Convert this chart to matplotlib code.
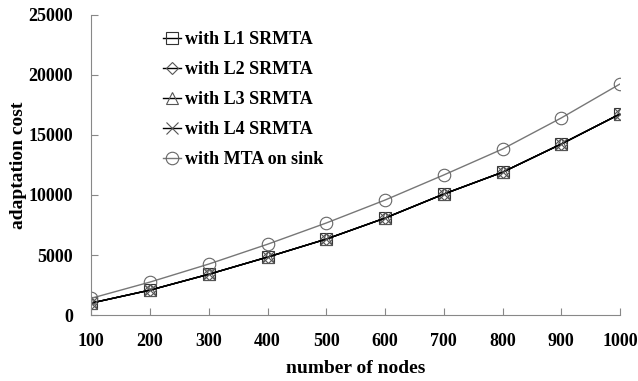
import numpy as np
import matplotlib.pyplot as plt

plt.rcParams['font.family'] = 'Liberation Serif'
plt.rcParams['font.weight'] = 'bold'

nodes = [100, 200, 300, 400, 500, 600, 700, 800, 900, 1000]
l1 = [1000, 2080, 3400, 4830, 6330, 8080, 10080, 11900, 14250, 16750]
l2 = [1000, 2080, 3400, 4830, 6330, 8080, 10080, 11900, 14250, 16750]
l3 = [1000, 2080, 3400, 4830, 6330, 8080, 10080, 11900, 14250, 16750]
l4 = [1000, 2080, 3400, 4830, 6330, 8080, 10080, 11900, 14250, 16750]
mta = [1400, 2750, 4250, 5900, 7670, 9580, 11670, 13830, 16420, 19250]

fig = plt.figure(figsize=(6.38, 3.81), dpi=100)
ax = fig.add_axes([0.143, 0.173, 0.829, 0.788])

mk = dict(markersize=8, markerfacecolor='none', markeredgewidth=0.8)
ax.plot(nodes, l1, color='black', marker='s', markeredgecolor='#333333', lw=1, label='with L1 SRMTA', **mk)
ax.plot(nodes, l2, color='black', marker='D', markeredgecolor='#555555', lw=1, label='with L2 SRMTA', markersize=6, markerfacecolor='none', markeredgewidth=0.8)
ax.plot(nodes, l3, color='black', marker='^', markeredgecolor='#555555', lw=1, label='with L3 SRMTA', **mk)
ax.plot(nodes, l4, color='black', marker='x', markeredgecolor='#555555', lw=1, label='with L4 SRMTA', **mk)
ax.plot(nodes, mta, color='#777777', marker='o', markeredgecolor='#666666', lw=1, label='with MTA on sink', markersize=9, markerfacecolor='none', markeredgewidth=0.8)

ax.set_xlim(100, 1000)
ax.set_ylim(0, 25000)
ax.set_xticks(nodes)
ax.set_yticks([0, 5000, 10000, 15000, 20000, 25000])
ax.tick_params(direction='in', labelsize=13, length=5, color='#888888', pad=13)
ax.spines['top'].set_visible(False)
ax.spines['right'].set_visible(False)
ax.spines['left'].set_color('#888888')
ax.spines['bottom'].set_color('#888888')
ax.set_xlabel('number of nodes', fontsize=14, fontweight='bold', labelpad=7)
ax.set_ylabel('adaptation cost', fontsize=14, fontweight='bold', labelpad=1)

ax.legend(loc='upper left', bbox_to_anchor=(0.105, 1.0), frameon=False,
          handlelength=1.0, handletextpad=0.2, labelspacing=0.72, prop={'weight': 'bold', 'size': 13})

fig.savefig('out.png', dpi=100)
